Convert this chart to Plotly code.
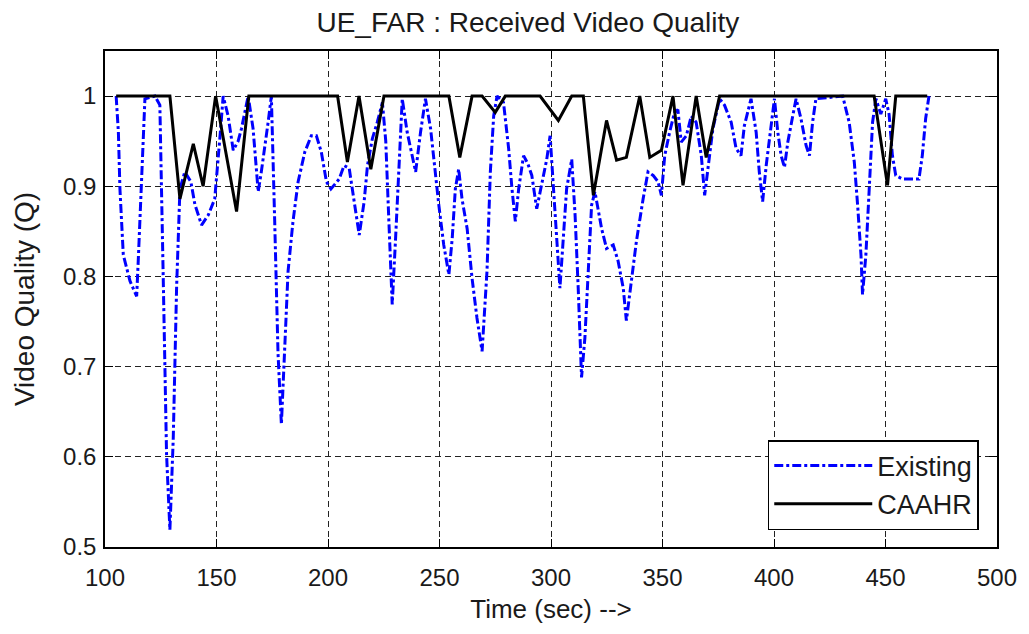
import plotly.graph_objects as go

# Existing (blue dash-dot)
existing_t = [105, 106, 106.7, 108.2, 111.2, 114.2, 114.9, 116.4, 117.9, 122.4, 124.6, 126.1, 127.6, 129.1,
              130.6, 132.1, 133.6, 135.8, 138.5, 140.3, 143.3, 146.3, 149.2, 151.5, 153.0, 155.2, 157.5,
              159.7, 161.2, 164.2, 166.4, 168.7, 170.1, 173.1, 174.6, 176.1, 177.6, 179.1, 180.6, 182.1,
              184.3, 186.6, 189.6, 192.5, 194.8, 197.0, 199.3, 201.3, 205.0, 207.2, 209.5, 211.7, 214.0,
              216.2, 217.7, 219.9, 222.1, 224.4, 225.9, 227.3, 228.8, 230.3, 231.8, 233.3, 235.5, 237.8,
              239.3, 241.5, 243.7, 246.0, 248.2, 249.7, 251.9, 254.2, 255.7, 257.1, 258.6, 260.1, 262.4,
              264.6, 266.8, 269.1, 271.3, 272.8, 274.3, 275.8, 278.7, 281.0, 282.5, 284.0, 285.5, 287.7,
              289.6, 291.4, 293.6, 295.9, 298.1, 299.6, 301.1, 302.6, 304.0, 305.5, 307.0, 309.3, 310.8,
              312.2, 313.7, 315.2, 316.7, 318.2, 319.7, 322.7, 324.9, 327.9, 330.1, 332.4, 333.8, 336.1,
              338.3, 341.3, 343.5, 345.8, 348.0, 349.5, 351.0, 353.2, 355.4, 356.9, 358.4, 360.7, 362.9,
              365.1, 367.4, 368.9, 370.3, 372.6, 375.6, 377.8, 380.8, 383.0, 385.2, 386.7, 389.7, 392.0,
              393.4, 394.9, 396.5, 398.0, 400.2, 401.7, 403.2, 404.7, 406.2, 408.4, 409.9, 412.1, 414.4,
              415.9, 417.3, 418.8, 430.8, 433.7, 436.0, 437.5, 439.0, 439.7, 441.2, 442.7, 444.2, 445.7,
              447.9, 450.1, 451.6, 453.1, 454.6, 457.6, 465.0, 466.5, 468.0, 469.5]
existing_q = [1.0, 0.96, 0.897, 0.824, 0.795, 0.778, 0.817, 0.916, 0.997, 1.0, 0.99, 0.80, 0.603, 0.519,
              0.62, 0.787, 0.897, 0.916, 0.905, 0.88, 0.857, 0.868, 0.886, 0.953, 1.0, 0.978, 0.94,
              0.95, 0.964, 1.0, 0.964, 0.894, 0.916, 0.97, 1.0, 0.861, 0.714, 0.636, 0.714, 0.806,
              0.861, 0.905, 0.938, 0.956, 0.956, 0.938, 0.905, 0.897, 0.908, 0.923, 0.92, 0.886, 0.846,
              0.883, 0.923, 0.953, 0.971, 0.993, 0.95, 0.861, 0.769, 0.842, 0.916, 0.997, 0.96, 0.934,
              0.916, 0.96, 0.997, 0.964, 0.912, 0.879, 0.835, 0.802, 0.842, 0.897, 0.919, 0.886, 0.853,
              0.798, 0.754, 0.717, 0.806, 0.916, 0.978, 1.0, 0.993, 0.942, 0.897, 0.861, 0.897, 0.934,
              0.925, 0.912, 0.875, 0.905, 0.93, 0.956, 0.897, 0.842, 0.787, 0.842, 0.897, 0.93, 0.868,
              0.787, 0.688, 0.732, 0.806, 0.879, 0.894, 0.853, 0.831, 0.835, 0.817, 0.787, 0.751, 0.794,
              0.839, 0.886, 0.916, 0.912, 0.905, 0.89, 0.934, 0.96, 0.982, 0.985, 0.949, 0.956, 0.978,
              0.971, 0.934, 0.89, 0.919, 0.964, 0.997, 0.99, 0.971, 0.942, 0.934, 0.967, 0.997, 0.96,
              0.916, 0.883, 0.923, 0.953, 0.997, 0.96, 0.934, 0.921, 0.949, 0.978, 0.997, 0.975, 0.945,
              0.934, 0.971, 0.997, 1.0, 0.971, 0.927, 0.879, 0.824, 0.78, 0.824, 0.897, 0.971, 0.997,
              0.98, 0.997, 0.98, 0.934, 0.912, 0.908, 0.908, 0.934, 0.975, 1.0]

# CAAHR (black solid)
caahr_t = [105, 129.1, 133.6, 139.6, 144.0, 149.6, 159.0, 164.5, 204.3, 208.7, 213.9, 219.2, 225.1, 254.2,
           259.1, 264.6, 269.1, 275.0, 279.5, 295.1, 303.3, 309.3, 314.5, 319.0, 324.9, 329.4, 333.8,
           339.8, 344.3, 349.5, 354.7, 359.2, 365.1, 369.6, 375.6, 444.9, 450.9, 454.6, 468.7]
caahr_q = [1.0, 1.0, 0.886, 0.947, 0.9, 1.0, 0.872, 1.0, 1.0, 0.927, 1.0, 0.919, 1.0, 1.0,
           0.932, 1.0, 1.0, 0.982, 1.0, 1.0, 0.973, 1.0, 1.0, 0.89, 0.973, 0.929, 0.932,
           1.0, 0.932, 0.94, 1.0, 0.901, 1.0, 0.932, 1.0, 1.0, 0.901, 1.0, 1.0]

x_ticks = [100, 150, 200, 250, 300, 350, 400, 450, 500]
y_ticks = [0.5, 0.6, 0.7, 0.8, 0.9, 1.0]
y_tick_labels = ["0.5", "0.6", "0.7", "0.8", "0.9", "1"]

FONT = "Liberation Sans, Arial, sans-serif"
TXT = "#1a1a1a"

fig = go.Figure()
fig.add_trace(go.Scatter(x=existing_t, y=existing_q, mode="lines", name="Existing",
                         line=dict(color="#0000FF", width=3, dash="dashdot")))
fig.add_trace(go.Scatter(x=caahr_t, y=caahr_q, mode="lines", name="CAAHR",
                         line=dict(color="#000000", width=3)))

axis_common = dict(showline=True, linecolor="#000000", linewidth=1.5, mirror="ticks",
                   ticks="inside", ticklen=8, tickwidth=1.2, tickcolor="#000000",
                   showgrid=True, gridcolor="#222222", gridwidth=1.2, griddash="6px,4px",
                   zeroline=False, tickfont=dict(family=FONT, size=24, color=TXT))

fig.update_xaxes(range=[100, 500], tickvals=x_ticks, ticklabelstandoff=8, **axis_common,
                 title=dict(text="Time (sec) -->", font=dict(family=FONT, size=26, color=TXT), standoff=10))
fig.update_yaxes(range=[0.5, 1.05], tickvals=y_ticks, ticktext=y_tick_labels, ticklabelstandoff=2,
                 **axis_common,
                 title=dict(text="Video Quality (Q)", font=dict(family=FONT, size=28, color=TXT), standoff=20))

fig.update_layout(
    width=1029, height=634,
    margin=dict(l=105, r=29, t=51, b=87),
    paper_bgcolor="white", plot_bgcolor="white",
    title=dict(text="UE_FAR : Received Video Quality", x=0.513, xref="container", xanchor="center",
               y=1 - 22 / 634, yref="container", yanchor="middle",
               font=dict(family=FONT, size=28, color=TXT)),
    legend=dict(x=0.743, y=0.2157, xanchor="left", yanchor="top", bgcolor="white",
                bordercolor="#000000", borderwidth=1.5, itemwidth=98,
                font=dict(family=FONT, size=27, color=TXT)),
    showlegend=True,
)

fig.write_html("out.html")
